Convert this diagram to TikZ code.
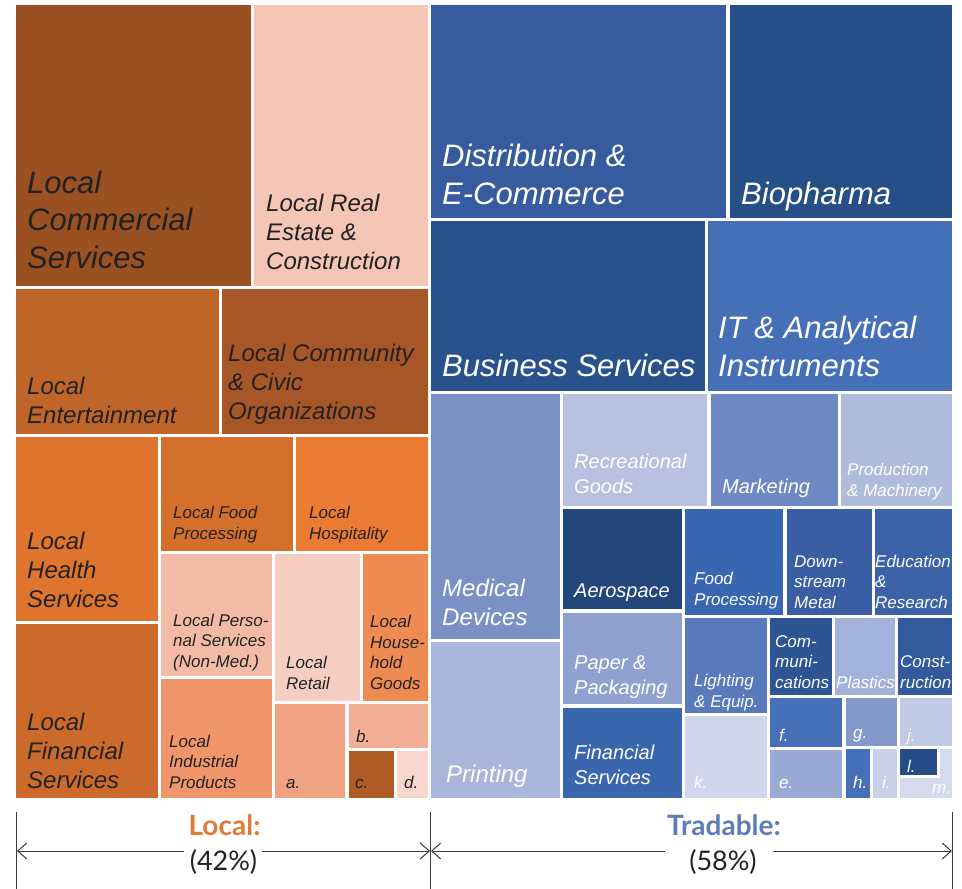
\documentclass[tikz,border=0pt]{standalone}
\usepackage{fontspec}
\setmainfont{Liberation Sans}
\newfontfamily\latofont{Lato}
\usetikzlibrary{arrows.meta}
\definecolor{txtdark}{HTML}{222222}
\definecolor{cLCS}{HTML}{9B5022}
\definecolor{cLRE}{HTML}{F5C6B6}
\definecolor{cLEnt}{HTML}{C0652A}
\definecolor{cLCom}{HTML}{A75627}
\definecolor{cLHea}{HTML}{DF742F}
\definecolor{cLFin}{HTML}{CC6A2C}
\definecolor{cLFood}{HTML}{D5702C}
\definecolor{cLHosp}{HTML}{EB7A33}
\definecolor{cLPers}{HTML}{F3BBA5}
\definecolor{cLInd}{HTML}{F0966A}
\definecolor{cLRet}{HTML}{F6CEC1}
\definecolor{cLHou}{HTML}{EE8B53}
\definecolor{colLa}{HTML}{F0A283}
\definecolor{colLb}{HTML}{F2AF96}
\definecolor{colLc}{HTML}{B05C27}
\definecolor{colLd}{HTML}{F7D6CD}
\definecolor{cDist}{HTML}{365C9F}
\definecolor{cBio}{HTML}{264F88}
\definecolor{cBus}{HTML}{29528D}
\definecolor{cIT}{HTML}{4570B7}
\definecolor{cMed}{HTML}{7A91C6}
\definecolor{cPrint}{HTML}{AAB6D9}
\definecolor{cRec}{HTML}{B8C2E0}
\definecolor{cMkt}{HTML}{6D88C2}
\definecolor{cProd}{HTML}{B0BCDC}
\definecolor{cAero}{HTML}{23467B}
\definecolor{cPaper}{HTML}{8FA1CF}
\definecolor{cFinS}{HTML}{3A66AD}
\definecolor{cFood}{HTML}{3866B0}
\definecolor{cDown}{HTML}{3A5EA4}
\definecolor{cEdu}{HTML}{3C62A8}
\definecolor{cLight}{HTML}{5879BC}
\definecolor{colTk}{HTML}{D0D7EA}
\definecolor{cComm}{HTML}{2D5594}
\definecolor{cPlast}{HTML}{A3B2DA}
\definecolor{cConst}{HTML}{335A9C}
\definecolor{colTf}{HTML}{4570B7}
\definecolor{colTe}{HTML}{98AAD5}
\definecolor{colTg}{HTML}{8398CB}
\definecolor{colTh}{HTML}{4570B7}
\definecolor{colTi}{HTML}{C9D1E8}
\definecolor{colTj}{HTML}{C1CAE4}
\definecolor{colTm}{HTML}{D5DBED}
\definecolor{colTl}{HTML}{264C86}
\definecolor{localorange}{HTML}{E07A38}
\definecolor{tradeblue}{HTML}{5D7DB9}
\definecolor{dimgray}{HTML}{3A3A3A}
\newcommand{\tmbox}[5]{\fill[#5] (#1,#2) rectangle (#3,#4);}
\begin{document}
\begin{tikzpicture}[x=1pt,y=-1pt,
  lab/.style={anchor=base west, inner sep=0pt, align=left},
  dk/.style={lab, text=txtdark},
  wt/.style={lab, text=white},
  fA/.style={font=\fontsize{31}{37.5}\selectfont\itshape},
  fB/.style={font=\fontsize{24}{29}\selectfont\itshape},
  fC/.style={font=\fontsize{20}{24.5}\selectfont\itshape},
  fD/.style={font=\fontsize{17}{20.5}\selectfont\itshape},
  dimline/.style={draw=dimgray, line width=1pt},
  dimarrow/.style={dimline, -{Straight Barb[length=9pt,width=16pt,line width=1pt]}},
  head/.style={anchor=base, inner sep=0pt, font=\latofont\bfseries\fontsize{28}{32}\selectfont},
  pct/.style={anchor=base, inner sep=0pt, text=txtdark, font=\latofont\fontsize{27}{32}\selectfont}]
\useasboundingbox (0,0) rectangle (962,889);
\fill[white] (0,0) rectangle (962,889);
% ---------- Local ----------
\tmbox{16}{5}{251}{286}{cLCS}
\tmbox{254}{5}{428}{286}{cLRE}
\tmbox{16}{289}{219}{434}{cLEnt}
\tmbox{222}{289}{428}{434}{cLCom}
\tmbox{16}{437}{158}{621}{cLHea}
\tmbox{16}{624}{158}{798}{cLFin}
\tmbox{161}{437}{293}{551}{cLFood}
\tmbox{296}{437}{428}{551}{cLHosp}
\tmbox{161}{554}{272}{676}{cLPers}
\tmbox{161}{679}{272}{798}{cLInd}
\tmbox{275}{554}{360}{701}{cLRet}
\tmbox{363}{554}{428}{701}{cLHou}
\tmbox{275}{704}{345}{798}{colLa}
\tmbox{349}{704}{428}{748}{colLb}
\tmbox{349}{751}{394}{798}{colLc}
\tmbox{397}{751}{428}{798}{colLd}
% ---------- Tradable ----------
\tmbox{431}{5}{726}{218}{cDist}
\tmbox{730}{5}{952}{218}{cBio}
\tmbox{431}{221}{705}{391}{cBus}
\tmbox{708}{221}{952}{391}{cIT}
\tmbox{431}{394}{560}{639}{cMed}
\tmbox{431}{642}{560}{798}{cPrint}
\tmbox{563}{394}{707}{506}{cRec}
\tmbox{711}{394}{838}{506}{cMkt}
\tmbox{841}{394}{952}{506}{cProd}
\tmbox{563}{509}{682}{609}{cAero}
\tmbox{563}{613}{682}{704}{cPaper}
\tmbox{563}{708}{682}{798}{cFinS}
\tmbox{685}{509}{783}{615}{cFood}
\tmbox{787}{509}{872}{615}{cDown}
\tmbox{875}{509}{952}{615}{cEdu}
\tmbox{685}{618}{767}{713}{cLight}
\tmbox{685}{716}{767}{798}{colTk}
\tmbox{770}{618}{832}{695}{cComm}
\tmbox{835}{618}{895}{695}{cPlast}
\tmbox{898}{618}{952}{695}{cConst}
\tmbox{770}{698}{842}{747}{colTf}
\tmbox{770}{750}{842}{798}{colTe}
\tmbox{846}{698}{897}{746}{colTg}
\tmbox{846}{749}{870}{798}{colTh}
\tmbox{873}{749}{897}{798}{colTi}
\tmbox{900}{698}{952}{746}{colTj}
\tmbox{900}{749}{952}{798}{colTm}
\tmbox{900}{749}{940}{778}{white}
\tmbox{900}{749}{937}{775}{colTl}
% ---------- Local labels (position = baseline of last line) ----------
\node[dk,fA] (tLCS) at (27,268) {Local\\Commercial\\Services};
\node[dk,fB] (tLRE) at (266,269) {Local Real\\Estate \&\\Construction};
\node[dk,fB] (tLEnt) at (27,423) {Local\\Entertainment};
\node[dk,fB] (tLCom) at (228,419) {Local Community\\\& Civic\\Organizations};
\node[dk,fB] (tLHea) at (27,607) {Local\\Health\\Services};
\node[dk,fB] (tLFin) at (27,788) {Local\\Financial\\Services};
\node[dk,fD] (tLFood) at (173,539) {Local Food\\Processing};
\node[dk,fD] (tLHosp) at (309,539) {Local\\Hospitality};
\node[dk,fD] (tLPers) at (173,667) {Local Perso-\\nal Services\\(Non-Med.)};
\node[dk,fD] (tLInd) at (169,788) {Local\\Industrial\\Products};
\node[dk,fD] (tLRet) at (286,689) {Local\\Retail};
\node[dk,fD] (tLHou) at (370,689) {Local\\House-\\hold\\Goods};
\node[dk,fD] (tLa) at (286,788) {a.};
\node[dk,fD] (tLb) at (356,742) {b.};
\node[dk,fD] (tLc) at (355,788) {c.};
\node[dk,fD] (tLd) at (404,788) {d.};
% ---------- Tradable labels ----------
\node[wt,fA] (tDist) at (442,204) {Distribution \&\\E-Commerce};
\node[wt,fA] (tBio) at (741,204) {Biopharma};
\node[wt,fA] (tBus) at (442,376) {Business Services};
\node[wt,fA] (tIT) at (718,376) {IT \& Analytical\\Instruments};
\node[wt,fB] (tMed) at (442,625) {Medical\\Devices};
\node[wt,fB] (tPrint) at (446,782) {Printing};
\node[wt,fC] (tRec) at (574,493) {Recreational\\Goods};
\node[wt,fC] (tMkt) at (722,493) {Marketing};
\node[wt,fD] (tProd) at (847,496) {Production\\\& Machinery};
\node[wt,fC] (tAero) at (574,597) {Aerospace};
\node[wt,fC] (tPaper) at (574,694) {Paper \&\\Packaging};
\node[wt,fC] (tFinS) at (574,784) {Financial\\Services};
\node[wt,fD] (tFood) at (694,605) {Food\\Processing};
\node[wt,fD] (tDown) at (794,608) {Down-\\stream\\Metal};
\node[wt,fD] (tEdu) at (875,608) {Education\\\&\\Research};
\node[wt,fD] (tLight) at (694,707) {Lighting\\\& Equip.};
\node[wt,fD] (tComm) at (775,688) {Com-\\muni-\\cations};
\node[wt,fD] (tPlast) at (836,688) {Plastics};
\node[wt,fD] (tConst) at (900,688) {Const-\\ruction};
\node[wt,fD] (tf) at (779,741) {f.};
\node[wt,fD] (tg) at (853,738) {g.};
\node[wt,fD] (tj) at (907,741) {j.};
\node[wt,fD] (tk) at (694,788) {k.};
\node[wt,fD] (te) at (779,788) {e.};
\node[wt,fD] (th) at (853,788) {h.};
\node[wt,fD] (ti) at (882,788) {i.};
\node[wt,fD] (tl) at (907,772) {l.};
\node[wt,fD] (tm) at (932,793) {m.};
% ---------- dimension lines ----------
\coordinate (tickLtop) at (16.5,812);
\coordinate (tickLbot) at (16.5,889);
\coordinate (tickMtop) at (430.5,812);
\coordinate (tickMbot) at (430.5,889);
\coordinate (tickRtop) at (952,812);
\coordinate (tickRbot) at (952,889);
\draw[dimline] (tickLtop) -- (tickLbot);
\draw[dimline] (tickMtop) -- (tickMbot);
\draw[dimline] (tickRtop) -- (tickRbot);
\coordinate (aL1) at (17,851);
\coordinate (aL2) at (184,851);
\coordinate (aL3) at (262,851);
\coordinate (aL4) at (430,851);
\coordinate (aT1) at (431,851);
\coordinate (aT2) at (665,851);
\coordinate (aT3) at (773,851);
\coordinate (aT4) at (952,851);
\draw[dimarrow] (aL2) -- (aL1);
\draw[dimarrow] (aL3) -- (aL4);
\draw[dimarrow] (aT2) -- (aT1);
\draw[dimarrow] (aT3) -- (aT4);
\node[head, text=localorange] (hLocal) at (224.5,835) {Local:};
\node[pct] (pLocal) at (223.5,870) {(42\%)};
\node[head, text=tradeblue] (hTrade) at (724,835) {Tradable:};
\node[pct] (pTrade) at (723,870) {(58\%)};
\end{tikzpicture}
\end{document}
